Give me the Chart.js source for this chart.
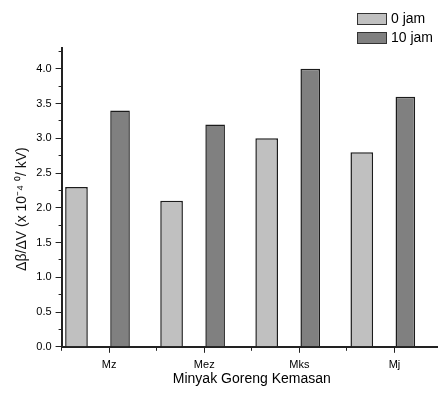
<!DOCTYPE html>
<html><head><meta charset="utf-8">
<script src="https://cdn.jsdelivr.net/npm/chart.js@4.4.1/dist/chart.umd.min.js"></script>
<style>
html,body{margin:0;padding:0;overflow:hidden;background:#fff;width:438px;height:394px}
#wrap{position:relative;width:442px;height:394px}
</style></head>
<body><div id="wrap"><canvas id="c"></canvas></div>
<script>
const categories = ['Mz', 'Mez', 'Mks', 'Mj'];
const seriesNames = ['0 jam', '10 jam'];
const values0jam = [2.3, 2.1, 3.0, 2.8];
const values10jam = [3.4, 3.2, 4.0, 3.6];
const spacerA = [null, null, null, null];
const spacerB = [null, null, null, null];
const yMin = 0, yMax = 4.3, yMajorStep = 0.5, yMinorStep = 0.25;
const xTitle = 'Minyak Goreng Kemasan';
const yTitle = 'Δβ/ΔV (x 10⁻⁴ ⁰/ kV)';

const FONT = '"Liberation Sans", Arial, sans-serif';
const AXIS = '#222';

const boxLegend = {
  id: 'boxLegend',
  afterDraw(chart) {
    const ctx = chart.ctx;
    ctx.save();
    let y = 13;
    chart.data.datasets.forEach(ds => {
      if (!ds.label) return;
      ctx.fillStyle = ds.backgroundColor;
      ctx.fillRect(357, y, 30, 12);
      ctx.strokeStyle = '#333';
      ctx.lineWidth = 1;
      ctx.strokeRect(357.5, y + 0.5, 29, 11);
      ctx.fillStyle = '#000';
      ctx.font = '14px ' + FONT;
      ctx.textBaseline = 'middle';
      ctx.textAlign = 'left';
      ctx.fillText(ds.label, 391, y + 6.5);
      y += 19;
    });
    ctx.restore();
  }
};

new Chart(document.getElementById('c'), {
  type: 'bar',
  data: {
    labels: categories,
    datasets: [
      { label: seriesNames[0], data: values0jam, backgroundColor: '#c0c0c0', borderColor: '#1c1c1c', borderWidth: 1.5, barPercentage: 1.04, categoryPercentage: 0.916 },
      { label: '', data: spacerA, backgroundColor: 'rgba(0,0,0,0)', barPercentage: 1, categoryPercentage: 0.916 },
      { label: seriesNames[1], data: values10jam, backgroundColor: '#808080', borderColor: '#1c1c1c', borderWidth: 1.5, barPercentage: 0.9, categoryPercentage: 0.916 },
      { label: '', data: spacerB, backgroundColor: 'rgba(0,0,0,0)', barPercentage: 1, categoryPercentage: 0.916 }
    ]
  },
  options: {
    responsive: true,
    maintainAspectRatio: false,
    devicePixelRatio: 1,
    animation: false,
    layout: { padding: { left: 14, top: 48, right: 0, bottom: 8 } },
    plugins: { legend: { display: false }, tooltip: { enabled: false } },
    scales: {
      x: {
        type: 'category',
        position: 'bottom',
        weight: 1,
        offset: true,
        grid: { offset: false, drawOnChartArea: false, tickLength: 6, tickColor: AXIS, tickWidth: 1 },
        border: { display: true, color: AXIS, width: 2 },
        ticks: { color: '#000', font: { family: FONT, size: 11 }, padding: 6, maxRotation: 0 },
        title: { display: true, text: xTitle, color: '#000', font: { family: FONT, size: 14, lineHeight: 1 }, padding: { top: -6, bottom: 0 } }
      },
      xMinor: {
        type: 'category',
        position: 'bottom',
        weight: 0,
        offset: true,
        grid: { offset: true, drawOnChartArea: false, tickLength: 4, tickColor: AXIS, tickWidth: 1 },
        border: { display: false },
        ticks: { display: false },
        afterFit(s) { s.height = 0; }
      },
      y: {
        type: 'linear',
        position: 'left',
        weight: 1,
        min: yMin, max: yMax,
        grid: { drawOnChartArea: false, tickLength: 6, tickColor: AXIS, tickWidth: 1 },
        border: { display: true, color: AXIS, width: 2 },
        ticks: { stepSize: yMajorStep, includeBounds: false, color: '#000', font: { family: FONT, size: 11 }, padding: 4,
          callback: v => Number(v).toFixed(1) },
        title: { display: true, text: yTitle + '\u00a0\u00a0\u00a0\u00a0\u00a0\u00a0', color: '#111', font: { family: FONT, size: 14 }, padding: { top: 0, bottom: 1.5 } }
      },
      yMinor: {
        type: 'linear',
        position: 'left',
        weight: 0,
        min: yMin, max: yMax,
        grid: { drawOnChartArea: false, tickLength: 3, tickColor: AXIS, tickWidth: 1 },
        border: { display: false },
        ticks: { display: false, stepSize: yMinorStep, includeBounds: false },
        afterFit(s) { s.width = 0; }
      }
    }
  },
  plugins: [boxLegend]
});
</script>
</body></html>
